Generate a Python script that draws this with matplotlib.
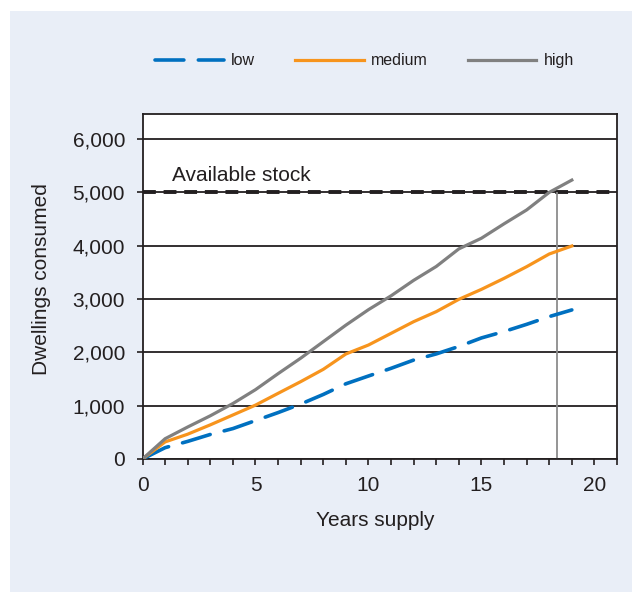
#!/usr/bin/env python3
"""
Dwellings consumed vs years supply for low, medium and high scenarios,
with the available stock line.
"""
import matplotlib
matplotlib.use("Agg")
import matplotlib.pyplot as plt
from matplotlib.patches import Rectangle

years = list(range(20))
low = [0, 212, 330, 460, 570, 720, 870, 1030, 1210, 1410, 1556, 1700,
       1855, 1970, 2110, 2270, 2390, 2525, 2670, 2795]
medium = [0, 320, 465, 640, 825, 1010, 1231, 1450, 1681, 1969, 2137, 2356,
          2575, 2763, 2994, 3181, 3387, 3606, 3844, 3994]
high = [0, 380, 600, 810, 1040, 1300, 1600, 1890, 2200, 2510, 2800, 3060,
        3350, 3610, 3940, 4140, 4410, 4670, 5000, 5230]

available_stock = 5000
stock_year = 18.34
y_ticks = [0, 1000, 2000, 3000, 4000, 5000, 6000]
y_labels = ["0", "1,000", "2,000", "3,000", "4,000", "5,000", "6,000"]
x_ticks = [0, 5, 10, 15, 20]

plt.rcParams["font.family"] = ["Liberation Sans", "DejaVu Sans"]
text_col = "#231f20"

fig = plt.figure(figsize=(6.32, 5.92), dpi=100)
fig.patch.set_facecolor("white")
# light blue panel behind the chart
fig.patches.append(Rectangle((10 / 632, 0), 1, 1 - 11 / 592,
                             transform=fig.transFigure,
                             facecolor="#e9eef7", edgecolor="none",
                             zorder=-10))

ax = fig.add_axes([0.2255, 0.2247, 0.7508, 0.5828])
ax.set_facecolor("white")

# horizontal gridlines
for v in y_ticks:
    ax.axhline(v, color=text_col, lw=1.3, zorder=1)

ax.axhline(available_stock, color=text_col, lw=2.8, dashes=(3.3, 2.0),
           zorder=2)
ax.vlines(stock_year, 0, available_stock, color="#8c8c8c", lw=1.3, zorder=2)

ax.plot(years, low, color="#0070c0", lw=2.6, dashes=(8, 4),
        dash_capstyle="round", label="low", zorder=3)
ax.plot(years, medium, color="#f7941d", lw=2.3, label="medium", zorder=3)
ax.plot(years, high, color="#808080", lw=2.3, label="high", zorder=3)

ax.text(1.29, 5218, "Available stock", fontsize=15, color=text_col,
        va="baseline", ha="left")

ax.set_xlim(0, 21)
ax.set_ylim(0, 6470)
ax.set_xticks(x_ticks)
ax.set_xticks(range(0, 22), minor=True)
ax.set_yticks(y_ticks)
ax.set_yticklabels(y_labels)
ax.tick_params(axis="both", which="both", direction="out", length=4.5,
               width=1.2, color=text_col, labelsize=15, labelcolor=text_col,
               pad=8)

for side in ax.spines.values():
    side.set_color(text_col)
    side.set_linewidth(1.3)

ax.set_xlabel("Years supply", fontsize=15, color=text_col, va="top")
ax.xaxis.set_label_coords(0.49, -0.151)
ax.set_ylabel("Dwellings consumed", fontsize=15, color=text_col)
ax.yaxis.set_label_coords(-0.193, 0.522)

fig.legend(loc="center", bbox_to_anchor=(0.577, 0.897), ncol=3,
           frameon=False, fontsize=11.5, handlelength=4.3,
           handletextpad=0.45, columnspacing=2.5, labelcolor=text_col)

fig.savefig("out.png", dpi=100)
